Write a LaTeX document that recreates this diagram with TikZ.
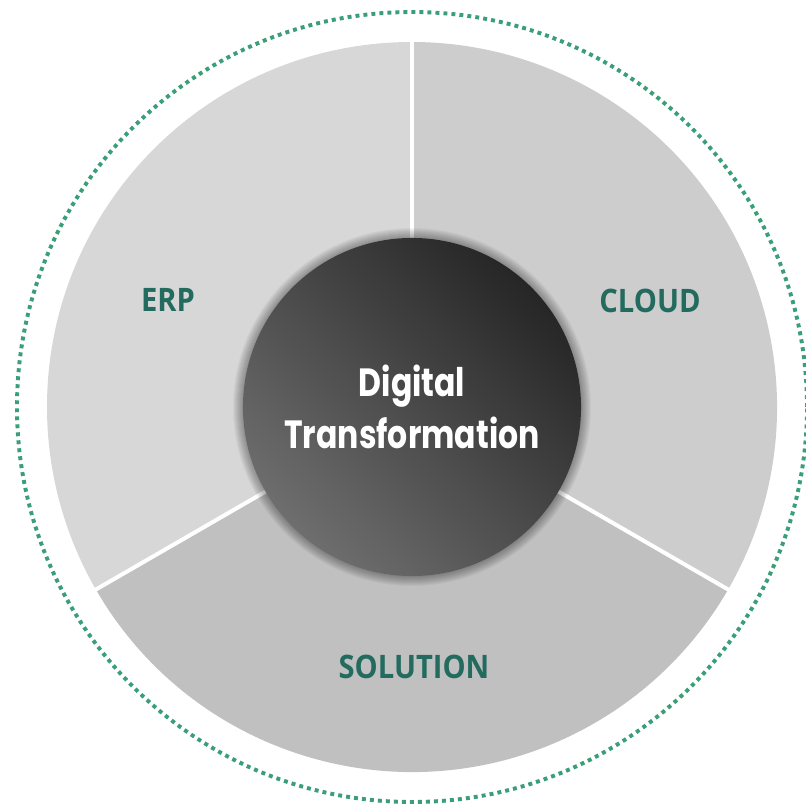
\documentclass[tikz,border=0pt]{standalone}
\usepackage{fontspec}
\setmainfont{Open Sans}
\newfontfamily\hubfont[FakeStretch=0.8]{Poppins}
\newfontfamily\labelfont[FakeStretch=0.9]{Open Sans}
\usepackage{tikz}
\usetikzlibrary{positioning}

\definecolor{ringgreen}{HTML}{3A9E78}
\definecolor{labelteal}{HTML}{236B5F}
\definecolor{erpgray}{HTML}{D7D7D7}
\definecolor{cloudgray}{HTML}{CDCDCD}
\definecolor{solgray}{HTML}{C0C0C0}
\definecolor{hubdark}{HTML}{262626}
\definecolor{hublight}{HTML}{6E6E6E}

\begin{document}
\begin{tikzpicture}[x=0.025cm, y=0.025cm,
  divider/.style={white, line width=1mm},
  seglabel/.style={text=labelteal, font=\labelfont\bfseries\fontsize{23}{28}\selectfont},
  hub/.style={circle, minimum size=8.45cm, inner sep=0pt, top color=hubdark, bottom color=hublight, shading angle=-45, text=white, align=center, font=\hubfont\bfseries\fontsize{28}{37}\selectfont}]

\useasboundingbox (-412,-397) rectangle (394,407);

% --- dotted ring ---
\draw[ringgreen, line width=2.8pt, dash pattern=on 2.8pt off 2.9pt] (0,0) circle (395);

% --- three segments ---
\fill[erpgray] (0,0) -- (90:365) arc[start angle=90, end angle=210, radius=365] -- cycle;
\fill[cloudgray] (0,0) -- (-30:365) arc[start angle=-30, end angle=90, radius=365] -- cycle;
\fill[solgray] (0,0) -- (210:365) arc[start angle=210, end angle=330, radius=365] -- cycle;

\coordinate (o) at (0,0);
\coordinate (top) at (90:366);
\coordinate (left) at (210:366);
\coordinate (right) at (330:366);
\draw[divider] (o) -- (top);
\draw[divider] (o) -- (left);
\draw[divider] (o) -- (right);

% --- soft shadow round the hub ---
\foreach \r in {1,...,10}
  \fill[black, opacity=0.035] (o) circle (169+\r);

% --- hub ---
\node[hub] (hub) at (o) {Digital\\Transformation};

% --- labels ---
\node[seglabel] (erp) at (-244,107) {ERP};
\node[seglabel] (cloud) at (238,106) {CLOUD};
\node[seglabel] (solution) at (2,-260) {SOLUTION};
\end{tikzpicture}
\end{document}
